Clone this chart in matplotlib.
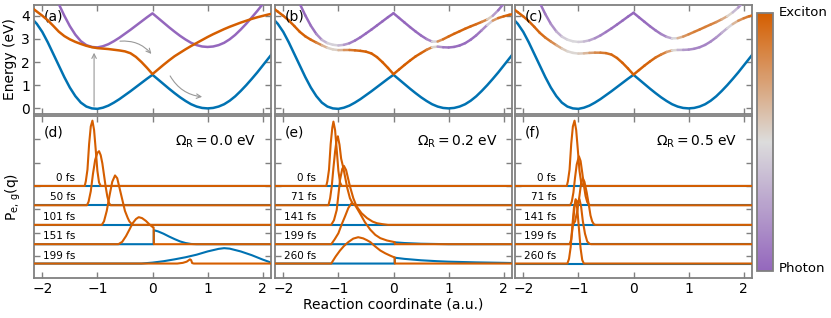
import numpy as np
import matplotlib.pyplot as plt
from matplotlib.collections import LineCollection
from matplotlib.colors import LinearSegmentedColormap, Normalize
from matplotlib.cm import ScalarMappable

# potential energy surfaces (eV), read on a 0.1 grid of the reaction coordinate
q = np.round(np.arange(-2.2, 2.21, 0.1), 2)
E_ground = [3.9, 3.65, 3.3, 2.85, 2.35, 1.85, 1.35, 0.9, 0.53, 0.25, 0.08, 0.0, -0.02,
            0.03, 0.12, 0.25, 0.4, 0.57, 0.74, 0.92, 1.1, 1.28, 1.45, 1.25, 1.05, 0.85,
            0.66, 0.48, 0.32, 0.18, 0.08, 0.02, 0.0, 0.02, 0.08, 0.18, 0.33, 0.52, 0.75,
            1.0, 1.27, 1.55, 1.85, 2.15, 2.45]
E_exciton = [4.36, 4.18, 4.0, 3.8, 3.56, 3.31, 3.12, 2.98, 2.87, 2.78, 2.7, 2.64, 2.6,
             2.58, 2.56, 2.53, 2.5, 2.46, 2.38, 2.22, 2.0, 1.75, 1.48, 1.68, 1.88, 2.07,
             2.25, 2.4, 2.55, 2.69, 2.82, 2.95, 3.08, 3.2, 3.31, 3.42, 3.52, 3.61, 3.7,
             3.78, 3.86, 3.93, 3.99, 4.05, 4.1]
omega_cav = 2.65
rabi = [0.0, 0.2, 0.5]

# wavepackets P(q) per time step, (q, P) points
times = [['0 fs', '50 fs', '101 fs', '151 fs', '199 fs'],
         ['0 fs', '71 fs', '141 fs', '199 fs', '260 fs'],
         ['0 fs', '71 fs', '141 fs', '199 fs', '260 fs']]
offsets = [3.0, 2.17, 1.33, 0.5, -0.33]

exc_d = [
    [(-1.23, 0), (-1.21, 0.2), (-1.18, 0.7), (-1.15, 1.8), (-1.12, 2.55), (-1.09, 2.8), (-1.06, 2.4),
     (-1.03, 1.55), (-1.0, 0.65), (-0.97, 0.15), (-0.94, 0)],
    [(-1.19, 0), (-1.16, 0.15), (-1.12, 0.6), (-1.08, 1.35), (-1.04, 1.95), (-1.0, 2.25), (-0.97, 2.32),
     (-0.94, 2.15), (-0.91, 1.8), (-0.88, 1.3), (-0.85, 0.8), (-0.82, 0.38), (-0.79, 0.1), (-0.76, 0)],
    [(-0.92, 0), (-0.88, 0.15), (-0.83, 0.6), (-0.78, 1.25), (-0.73, 1.85), (-0.68, 2.12), (-0.64, 2.0),
     (-0.6, 1.6), (-0.55, 1.1), (-0.5, 0.6), (-0.45, 0.3), (-0.42, 0.15), (-0.38, 0.04), (-0.34, 0)],
    [(-0.62, 0), (-0.55, 0.1), (-0.48, 0.35), (-0.42, 0.62), (-0.36, 0.9), (-0.3, 1.08), (-0.25, 1.16),
     (-0.19, 1.12), (-0.12, 1.0), (-0.06, 0.86), (0.0, 0.74), (0.02, 0.72), (0.025, 0)],
    [(0.45, 0), (0.55, 0.03), (0.62, 0.08), (0.68, 0.18), (0.7, 0.15), (0.72, 0.02), (0.75, 0)],
]
gnd_d = [
    [], [], [],
    [(0.02, 0), (0.025, 0.6), (0.1, 0.55), (0.2, 0.45), (0.3, 0.33), (0.4, 0.22), (0.5, 0.12),
     (0.6, 0.05), (0.7, 0.01), (0.8, 0)],
    [(-0.2, 0), (0.0, 0.04), (0.2, 0.1), (0.4, 0.18), (0.6, 0.27), (0.8, 0.38), (1.0, 0.52),
     (1.2, 0.63), (1.3, 0.66), (1.4, 0.64), (1.6, 0.52), (1.8, 0.36), (2.0, 0.17), (2.2, 0.0)],
]

exc_e = [
    [(-1.22, 0), (-1.2, 0.2), (-1.17, 0.7), (-1.14, 1.8), (-1.11, 2.5), (-1.09, 2.76), (-1.06, 2.4),
     (-1.03, 1.55), (-1.0, 0.65), (-0.97, 0.15), (-0.94, 0)],
    [(-1.18, 0), (-1.15, 0.3), (-1.12, 0.82), (-1.09, 1.6), (-1.06, 2.3), (-1.03, 2.85), (-1.01, 2.96),
     (-0.98, 2.6), (-0.95, 2.0), (-0.91, 1.6), (-0.88, 1.24), (-0.84, 0.75), (-0.79, 0.3),
     (-0.74, 0.07), (-0.68, 0)],
    [(-1.13, 0), (-1.08, 0.2), (-1.03, 0.64), (-0.97, 1.93), (-0.93, 2.4), (-0.9, 2.53), (-0.86, 2.35),
     (-0.82, 1.95), (-0.79, 1.65), (-0.73, 1.15), (-0.67, 0.79), (-0.58, 0.5), (-0.48, 0.29),
     (-0.38, 0.14), (-0.3, 0.07), (-0.2, 0.03), (-0.1, 0)],
    [(-1.13, 0), (-1.07, 0.2), (-1.0, 0.47), (-0.94, 0.85), (-0.88, 1.19), (-0.82, 1.55), (-0.76, 1.76),
     (-0.69, 1.65), (-0.61, 1.33), (-0.52, 0.95), (-0.42, 0.62), (-0.33, 0.4), (-0.24, 0.26),
     (-0.12, 0.16), (0.0, 0.1), (0.02, 0.09), (0.025, 0)],
    [(-1.13, 0), (-1.05, 0.3), (-0.97, 0.56), (-0.9, 0.75), (-0.82, 0.92), (-0.73, 1.07), (-0.64, 1.13),
     (-0.55, 1.08), (-0.48, 1.0), (-0.42, 0.92), (-0.33, 0.73), (-0.24, 0.56), (-0.15, 0.44),
     (-0.06, 0.34), (0.0, 0.28), (0.02, 0.27), (0.025, 0)],
]
gnd_e = [
    [], [], [],
    [(0.02, 0), (0.025, 0.08), (0.2, 0.05), (0.5, 0.02), (1.0, 0)],
    [(0.02, 0), (0.025, 0.25), (0.2, 0.2), (0.5, 0.14), (0.8, 0.1), (1.0, 0.08), (1.5, 0.05),
     (2.0, 0.03), (2.2, 0.02)],
]

exc_f = [
    [(-1.21, 0), (-1.19, 0.2), (-1.16, 0.7), (-1.13, 1.8), (-1.1, 2.55), (-1.07, 2.8), (-1.04, 2.4),
     (-1.01, 1.55), (-0.98, 0.65), (-0.95, 0.15), (-0.92, 0)],
    [(-1.15, 0), (-1.12, 0.15), (-1.09, 0.55), (-1.06, 1.2), (-1.03, 1.75), (-0.99, 2.1), (-0.96, 1.9),
     (-0.93, 1.4), (-0.9, 0.85), (-0.87, 0.4), (-0.84, 0.14), (-0.81, 0.03), (-0.78, 0)],
    [(-1.1, 0), (-1.06, 0.15), (-1.02, 0.6), (-0.98, 1.25), (-0.95, 1.8), (-0.92, 2.0), (-0.89, 1.85),
     (-0.85, 1.4), (-0.81, 0.85), (-0.78, 0.4), (-0.75, 0.15), (-0.72, 0.03), (-0.69, 0)],
    [(-1.16, 0), (-1.13, 0.2), (-1.1, 0.8), (-1.07, 1.6), (-1.05, 1.93), (-1.02, 1.78), (-0.98, 1.93),
     (-0.95, 1.6), (-0.92, 1.0), (-0.88, 0.45), (-0.84, 0.12), (-0.8, 0.02), (-0.77, 0)],
    [(-1.2, 0), (-1.17, 0.2), (-1.14, 0.7), (-1.11, 1.6), (-1.08, 2.4), (-1.05, 2.7), (-1.02, 2.35),
     (-0.99, 1.5), (-0.96, 0.65), (-0.93, 0.15), (-0.9, 0)],
]
gnd_f = [[], [], [], [], []]

blue = '#0072b2'
orange = '#d55e00'
purple = '#9467bd'
grey = '#808080'
cmap = LinearSegmentedColormap.from_list('pol', [purple, '#dcdcdc', orange])

W, H = 831, 318
fig = plt.figure(figsize=(W / 100, H / 100), dpi=100)
lefts = [34, 275, 515]
axw = 237


def style(ax):
    for s in ax.spines.values():
        s.set_color(grey)
        s.set_linewidth(1.3)
    ax.tick_params(direction='in', top=True, right=True, length=4, width=1, color=grey,
                   labelsize=10, pad=3)
    ax.set_xlim(-2.15, 2.15)
    ax.set_xticks([-2, -1, 0, 1, 2])


def colored_line(ax, x, y, c):
    pts = np.column_stack([x, y]).reshape(-1, 1, 2)
    segs = np.concatenate([pts[:-1], pts[1:]], axis=1)
    lc = LineCollection(segs, cmap=cmap, norm=Normalize(0, 1), linewidths=1.8,
                        capstyle='round', zorder=3)
    lc.set_array(0.5 * (c[:-1] + c[1:]))
    ax.add_collection(lc)


def full(pts):
    pts = [(-2.2, 0)] + list(pts) + [(2.2, 0)]
    x, y = zip(*pts)
    return np.array(x), np.array(y)


E_g = np.array(E_ground)
E_x = np.array(E_exciton)
E_p = E_g + omega_cav

top_axes = []
for i, om in enumerate(rabi):
    ax = fig.add_axes([lefts[i] / W, (H - 113.5) / H, axw / W, 108.5 / H])
    style(ax)
    ax.set_ylim(-0.22, 4.46)
    ax.set_yticks([0, 1, 2, 3, 4])
    ax.plot(q, E_g, color=blue, lw=1.8, zorder=2)
    if om == 0:
        ax.plot(q, E_p, color=purple, lw=1.8, zorder=3)
        ax.plot(q, E_x, color=orange, lw=1.8, zorder=4)
    else:
        Hm = np.zeros((len(q), 2, 2))
        Hm[:, 0, 0] = E_x
        Hm[:, 1, 1] = E_p
        Hm[:, 0, 1] = Hm[:, 1, 0] = om / 2
        vals, vecs = np.linalg.eigh(Hm)
        for k in range(2):
            colored_line(ax, q, vals[:, k], vecs[:, 0, k] ** 2)
    ax.tick_params(labelbottom=False)
    if i > 0:
        ax.tick_params(labelleft=False)
    ax.text(0.04, 0.895, '(%s)' % 'abc'[i], transform=ax.transAxes, ha='left', va='center',
            fontsize=10)
    top_axes.append(ax)

top_axes[0].set_ylabel('Energy (eV)', fontsize=10)
top_axes[0].yaxis.set_label_coords(-0.072, 0.5)

# arrows in (a)
ax = top_axes[0]
akw = dict(arrowstyle='->', color='#999999', lw=0.8, shrinkA=0, shrinkB=0,
           mutation_scale=8)
ax.annotate('', xy=(-1.06, 2.4), xytext=(-1.06, 0.1), arrowprops=akw)
ax.annotate('', xy=(-0.02, 2.35), xytext=(-0.59, 2.9),
            arrowprops=dict(akw, connectionstyle='arc3,rad=-0.25'))
ax.annotate('', xy=(0.9, 0.5), xytext=(0.32, 1.4),
            arrowprops=dict(akw, connectionstyle='arc3,rad=0.25'))

exc_all = [exc_d, exc_e, exc_f]
gnd_all = [gnd_d, gnd_e, gnd_f]
for i, om in enumerate(rabi):
    ax = fig.add_axes([lefts[i] / W, 40 / H, axw / W, 162 / H])
    style(ax)
    ax.set_ylim(-0.95, 6.0)
    ax.set_yticks([0, 1, 2, 3, 4, 5])
    ax.tick_params(labelleft=False)
    for j, off in enumerate(offsets):
        gx, gy = full(gnd_all[i][j])
        ax.plot(gx, off + gy, color=blue, lw=1.5, zorder=2)
        ex, ey = full(exc_all[i][j])
        ax.plot(ex, off + ey, color=orange, lw=1.5, zorder=3)
        ax.text(-1.4, off + 0.34, times[i][j], ha='right', va='center', fontsize=7.5)
    ax.text(0.04, 0.9, '(%s)' % 'def'[i], transform=ax.transAxes, ha='left', va='center',
            fontsize=10)
    ax.text(0.94, 0.84, r'$\Omega_{\mathrm{R}}=%.1f$ eV' % om, transform=ax.transAxes,
            ha='right', va='center', fontsize=10)
    ax.set_xticklabels(['\u22122', '\u22121', '0', '1', '2'])
    if i == 0:
        ax.set_ylabel(r'P$_{\mathrm{e,\,g}}$(q)', fontsize=10)
        ax.yaxis.set_label_coords(-0.046, 0.5)
    if i == 1:
        ax.set_xlabel('Reaction coordinate (a.u.)', fontsize=10)
        ax.xaxis.set_label_coords(0.5, -0.123)

cax = fig.add_axes([757 / W, 47 / H, 16 / W, 258 / H])
cb = fig.colorbar(ScalarMappable(norm=Normalize(0, 1), cmap=cmap), cax=cax, ticks=[])
cb.outline.set_edgecolor(grey)
cb.outline.set_linewidth(1.3)
fig.text(779 / W, (H - 12) / H, 'Exciton', ha='left', va='center', fontsize=9.5)
fig.text(779 / W, (H - 269) / H, 'Photon', ha='left', va='center', fontsize=9.5)

fig.savefig('out.png', dpi=100)
